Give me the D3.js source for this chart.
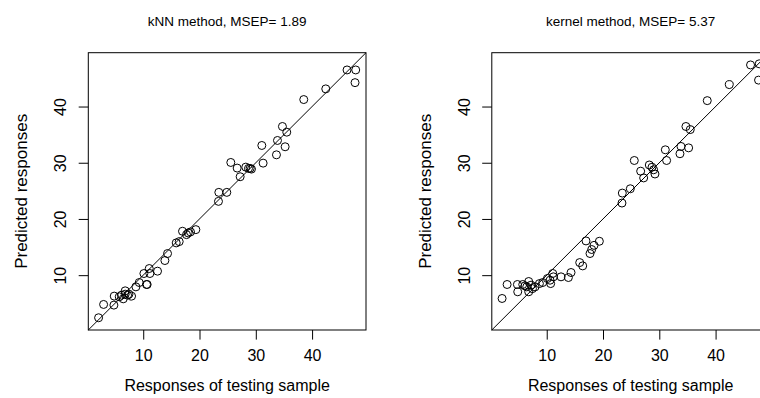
<!DOCTYPE html>
<html>
<head>
<meta charset="utf-8">
<script src="https://cdn.jsdelivr.net/npm/d3@7"></script>
<style>
  body { margin: 0; background: #fff; }
  text { font-family: "Liberation Sans", Arial, sans-serif; fill: #000; }
</style>
</head>
<body>
<svg width="760" height="398"></svg>
<script>
// Observed responses of the testing sample (same for both panels)
const testing = [2.07, 2.96, 4.79, 4.85, 5.74, 6.15, 6.45, 6.80, 6.80, 7.22, 7.46, 7.93,
  8.70, 9.29, 10.12, 10.59, 10.70, 11.07, 11.18, 12.54, 13.85, 14.32, 15.86, 16.39,
  16.98, 17.69, 17.99, 18.40, 19.35, 23.37, 23.43, 24.85, 25.56, 26.69, 27.22, 28.22,
  28.70, 28.99, 29.23, 31.07, 31.30, 33.67, 33.85, 34.73, 35.21, 35.50, 38.52, 42.43,
  46.21, 47.75, 47.63];

// kNN predictions
const knnPred = [2.42, 4.79, 4.67, 6.27, 6.15, 6.44, 5.79, 7.21, 6.62, 6.44, 6.62, 6.27,
  7.92, 8.69, 10.29, 8.34, 8.34, 11.18, 10.29, 10.71, 12.60, 13.85, 15.74, 15.97,
  17.81, 17.21, 17.51, 17.69, 18.10, 23.13, 24.73, 24.73, 30.05, 29.05, 27.51, 29.22,
  28.99, 28.99, 28.87, 33.07, 29.93, 31.41, 33.96, 36.45, 32.84, 35.44, 41.24, 43.14,
  46.51, 46.51, 44.25];

// kernel predictions
const kernelPred = [5.85, 8.34, 8.34, 7.04, 8.34, 8.10, 7.92, 8.87, 7.04, 8.22, 7.60, 7.92,
  8.50, 8.69, 9.40, 9.10, 8.50, 10.30, 9.70, 9.70, 9.58, 10.47, 12.24, 11.65,
  16.09, 13.85, 14.56, 15.30, 16.03, 22.83, 24.60, 25.37, 30.40, 28.50, 27.30, 29.60,
  29.20, 28.75, 28.00, 32.30, 30.40, 31.60, 32.90, 36.45, 32.65, 35.90, 41.05, 43.90,
  47.40, 47.60, 44.70];

const titles = ["kNN method, MSEP= 1.89", "kernel method, MSEP= 5.37"];
const tickValues = [10, 20, 30, 40];

let svg = d3.select("svg"),
  panelWidth = 403.5,
  margin = { top: 52.7, right: 37.5, bottom: 68, left: 88.3 },
  width = panelWidth - margin.left - margin.right,
  height = +svg.attr("height") - margin.top - margin.bottom;

// R style axis range: data range padded by 4% on each side
let ext = d3.extent(testing);
let pad = (ext[1] - ext[0]) * 0.04;
let domain = [ext[0] - pad, ext[1] + pad];

let x = d3.scaleLinear().domain(domain).range([0, width]);
let y = d3.scaleLinear().domain(domain).range([height, 0]);

let sizes = { title: 13.5, tick: 16, xlab: 16, ylab: 17 };

[knnPred, kernelPred].forEach((pred, i) => {
  let g = svg.append("g")
    .attr("transform", "translate(" + (margin.left + i * panelWidth) + "," + margin.top + ")");

  let points = testing.map((t, j) => ({ obs: t, pred: pred[j] }));

  // X axis
  let xAxis = g.append("g")
    .attr("transform", "translate(0," + height + ")")
    .call(d3.axisBottom(x).tickValues(tickValues).tickSize(9.6).tickSizeOuter(0));
  xAxis.select(".domain").remove();
  xAxis.selectAll("line").attr("stroke", "#000");
  xAxis.selectAll("text")
    .attr("y", 31)
    .attr("dy", null)
    .style("font-size", sizes.tick + "px")
    .style("font-family", "Liberation Sans, Arial, sans-serif");

  // Y axis, labels parallel to the axis
  let yAxis = g.append("g")
    .call(d3.axisLeft(y).tickValues(tickValues).tickSize(9.6).tickSizeOuter(0));
  yAxis.select(".domain").remove();
  yAxis.selectAll("line").attr("stroke", "#000");
  yAxis.selectAll("text")
    .attr("x", null)
    .attr("dy", null)
    .attr("transform", "translate(-22,0) rotate(-90)")
    .attr("text-anchor", "middle")
    .style("font-size", sizes.tick + "px")
    .style("font-family", "Liberation Sans, Arial, sans-serif");

  // Box
  g.append("rect")
    .attr("width", width)
    .attr("height", height)
    .attr("fill", "none")
    .attr("stroke", "#000")
    .attr("stroke-width", 1);

  // y = x reference line
  g.append("line")
    .attr("x1", x(domain[0]))
    .attr("y1", y(domain[0]))
    .attr("x2", x(domain[1]))
    .attr("y2", y(domain[1]))
    .attr("stroke", "#000")
    .attr("stroke-width", 1);

  // Points
  g.append("g")
    .selectAll("circle")
    .data(points)
    .enter()
    .append("circle")
    .attr("cx", d => x(d.obs))
    .attr("cy", d => y(d.pred))
    .attr("r", 4)
    .attr("fill", "none")
    .attr("stroke", "#000")
    .attr("stroke-width", 1);

  // Title
  g.append("text")
    .attr("x", width / 2)
    .attr("y", -27)
    .attr("text-anchor", "middle")
    .style("font-size", sizes.title + "px")
    .text(titles[i]);

  // Axis titles
  g.append("text")
    .attr("x", width / 2)
    .attr("y", height + 61)
    .attr("text-anchor", "middle")
    .style("font-size", sizes.xlab + "px")
    .text("Responses of testing sample");

  g.append("text")
    .attr("transform", "rotate(-90)")
    .attr("x", -height / 2)
    .attr("y", -61)
    .attr("text-anchor", "middle")
    .style("font-size", sizes.ylab + "px")
    .text("Predicted responses");
});
</script>
</body>
</html>
